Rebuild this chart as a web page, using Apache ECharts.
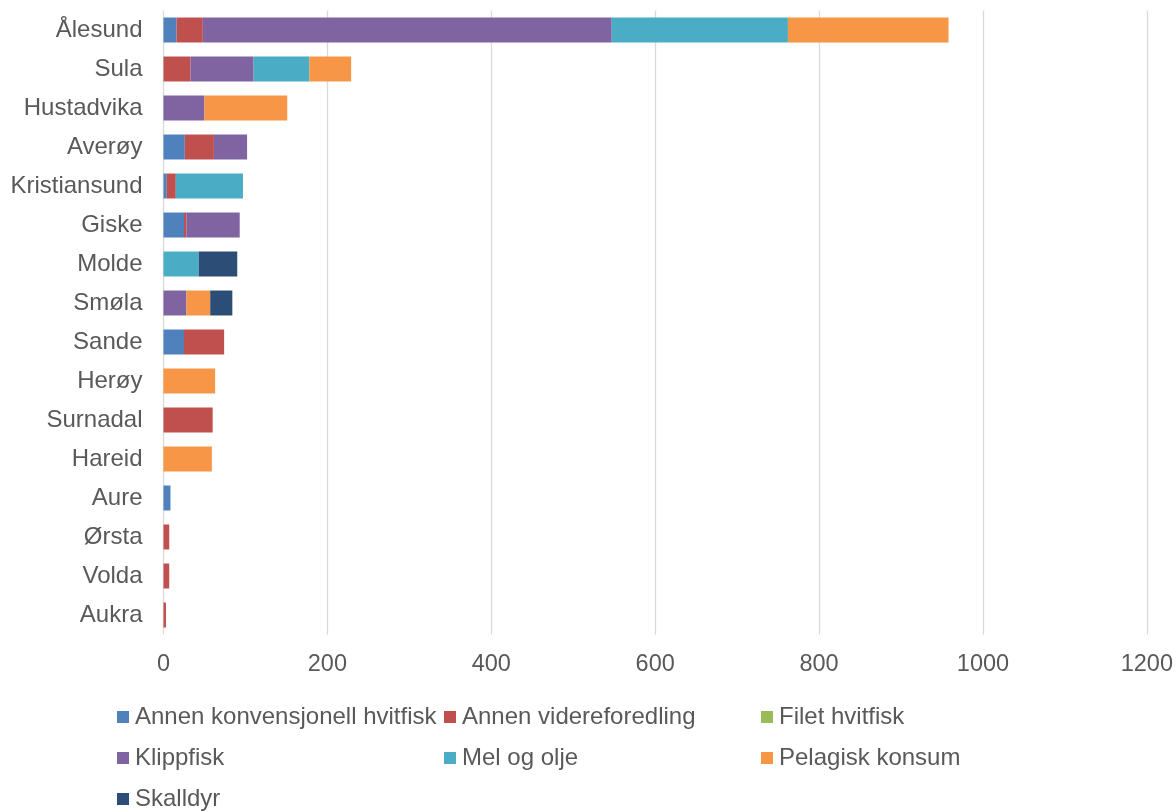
<!DOCTYPE html>
<html>
<head>
<meta charset="utf-8">
<script src="https://cdn.jsdelivr.net/npm/echarts@6/dist/echarts.min.js"></script>
<style>
html,body{margin:0;padding:0;background:#fff;}
#chart{width:1176px;height:811px;}
</style>
</head>
<body>
<div id="chart"></div>
<script>
const categories = ['Ålesund','Sula','Hustadvika','Averøy','Kristiansund','Giske','Molde','Smøla','Sande','Herøy','Surnadal','Hareid','Aure','Ørsta','Volda','Aukra'];
const annenKonvensjonell = [16,0,0,26,4,25,0,0,25,0,0,0,8.5,0,0,0];
const annenVidereforedling = [32,33,0,35.5,11,3,0,0,49,0,60,0,0,7,7,3];
const filetHvitfisk = [0,0,0,0,0,0,0,0,0,0,0,0,0,0,0,0];
const klippfisk = [499,77,50,40.5,0,65,0,28,0,0,0,0,0,0,0,0];
const melOgOlje = [215,68,0,0,82,0,43,0,0,0,0,0,0,0,0,0];
const pelagiskKonsum = [196,51,101,0,0,0,0,29,0,63,0,59,0,0,0,0];
const skalldyr = [0,0,0,0,0,0,47,27,0,0,0,0,0,0,0,0];
const xTicks = {min:0, max:1200, interval:200};

const seriesDefs = [
  {name:'Annen konvensjonell hvitfisk', data:annenKonvensjonell, color:'#4F81BD'},
  {name:'Annen videreforedling', data:annenVidereforedling, color:'#C0504D'},
  {name:'Filet hvitfisk', data:filetHvitfisk, color:'#9BBB59'},
  {name:'Klippfisk', data:klippfisk, color:'#8064A2'},
  {name:'Mel og olje', data:melOgOlje, color:'#4BACC6'},
  {name:'Pelagisk konsum', data:pelagiskKonsum, color:'#F79646'},
  {name:'Skalldyr', data:skalldyr, color:'#2C4D75'}
];

const font = 'Liberation Sans, Arial, sans-serif';
const txt = {color:'#595959', fontSize:24, fontFamily:font, lineHeight:24};
function legendCol(left, names){
  return {
    orient:'vertical', left:left, top:705, padding:0,
    itemWidth:12, itemHeight:12, itemGap:17, icon:'rect',
    textStyle:Object.assign({padding:[0,0,0,1]}, txt),
    data:names, selectedMode:false
  };
}

const chart = echarts.init(document.getElementById('chart'));
chart.setOption({
  backgroundColor:'#fff',
  animation:false,
  grid:{left:163.5, right:29, top:10.5, bottom:176.5, containLabel:false},
  legend:[
    legendCol(117, ['Annen konvensjonell hvitfisk','Klippfisk','Skalldyr']),
    legendCol(444, ['Annen videreforedling','Mel og olje']),
    legendCol(761, ['Filet hvitfisk','Pelagisk konsum'])
  ],
  xAxis:{
    type:'value', min:xTicks.min, max:xTicks.max, interval:xTicks.interval,
    axisLine:{show:false}, axisTick:{show:false},
    axisLabel:{color:'#595959', fontSize:23.5, fontFamily:font, margin:18, showMaxLabel:true,
      formatter:function(v){return String(v);}},
    splitLine:{show:true, lineStyle:{color:'#d9d9d9', width:1.3}}
  },
  yAxis:{
    type:'category', data:categories, inverse:true,
    axisLine:{show:false}, axisTick:{show:false},
    axisLabel:{color:'#595959', fontSize:24, fontFamily:font, margin:21}
  },
  series:seriesDefs.map(s=>({
    type:'bar', name:s.name, stack:'total', data:s.data,
    barWidth:'64%',
    itemStyle:{color:s.color}
  }))
});
</script>
</body>
</html>
